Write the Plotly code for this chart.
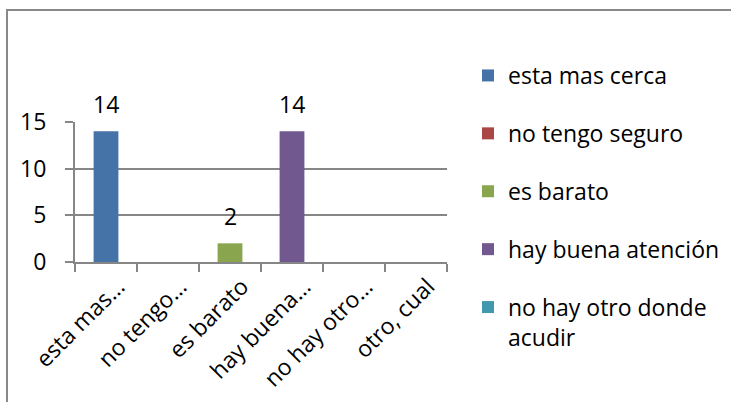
import plotly.graph_objects as go

# Survey responses: reasons for choosing the place
categories = ["esta mas cerca", "no tengo seguro", "es barato",
              "hay buena atención", "no hay otro donde acudir", "otro, cual"]
tick_labels = ["esta mas…", "no tengo…", "es barato",
               "hay buena…", "no hay otro…", "otro, cual"]
legend_labels = ["esta mas cerca", "no tengo seguro", "es barato",
                 "hay buena atención", "no hay otro donde<br>acudir", "otro, cual"]
counts = [14, None, 2, 14, None, None]
colors = ["#4572A7", "#AA4643", "#89A54E", "#71588F", "#4198AF", "#DB843D"]
y_ticks = [0, 5, 10, 15]

FONT = "Open Sans"
FS = 23
W, H = 731, 402
L, R, T, B = 75, 447, 122, 262  # plot area in pixels

fig = go.Figure()
for i, cat in enumerate(categories):
    fig.add_trace(go.Bar(
        x=[cat],
        y=[counts[i] if counts[i] is not None else 0],
        name=legend_labels[i],
        marker=dict(color=colors[i], line=dict(width=0)),
        width=0.4,
        legendgroup=f"g{i}",
        showlegend=i < 5,
    ))

# value labels above the bars
for cat, v in zip(categories, counts):
    if v is not None:
        fig.add_annotation(x=cat, y=v, text=str(v), showarrow=False,
                           yanchor="middle", yshift=27,
                           font=dict(family=FONT, size=FS, color="#000000"))

# outer chart border
pw, ph = R - L, B - T
fig.add_shape(type="rect", xref="paper", yref="paper",
              x0=(7 - L) / pw, x1=(W + 10 - L) / pw,
              y0=(B - (H + 10)) / ph, y1=(B - 10) / ph,
              line=dict(color="#898989", width=2), fillcolor="rgba(0,0,0,0)",
              layer="below")

fig.update_layout(
    width=W, height=H,
    margin=dict(l=L, r=W - R, t=T, b=H - B, pad=0, autoexpand=False),
    paper_bgcolor="white", plot_bgcolor="white",
    barmode="overlay",
    font=dict(family=FONT, size=FS, color="#000000"),
    showlegend=True,
    legend=dict(
        x=(468 - L) / pw, xanchor="left",
        y=(B - 54) / ph, yanchor="top",
        traceorder="grouped", tracegroupgap=25,
        valign="top", maxheight=1,
        font=dict(family=FONT, size=FS, color="#000000"),
        bgcolor="rgba(0,0,0,0)", borderwidth=0,
        itemclick=False,
    ),
    xaxis=dict(
        categoryorder="array", categoryarray=categories,
        tickmode="array", tickvals=categories, ticktext=tick_labels,
        tickangle=-45, tickson="boundaries", ticklabelshift=12,
        ticks="outside", ticklen=8, tickcolor="#868686", tickwidth=2,
        showline=True, linecolor="#868686", linewidth=2,
        showgrid=False, zeroline=False, automargin=False,
        tickfont=dict(family=FONT, size=FS),
    ),
    yaxis=dict(
        range=[0, 15], tickvals=y_ticks,
        ticks="outside", ticklen=8, tickcolor="#868686", tickwidth=2,
        showline=True, linecolor="#868686", linewidth=2,
        showgrid=True, gridcolor="#868686", gridwidth=2,
        zeroline=False, ticklabelstandoff=14, automargin=False,
        tickfont=dict(family=FONT, size=FS),
    ),
)

fig.write_html("out.html")
